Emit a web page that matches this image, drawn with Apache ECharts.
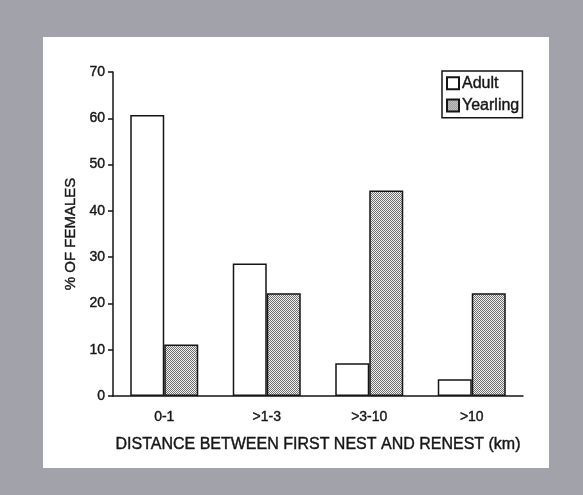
<!DOCTYPE html>
<html><head><meta charset="utf-8">
<script src="https://cdn.jsdelivr.net/npm/echarts@6/dist/echarts.min.js"></script>
<style>html,body{margin:0;padding:0;background:#a2a2aa;}#c{width:583px;height:495px;}</style>
</head><body><div id="c"></div>
<script>
const categories = ['0-1', '>1-3', '>3-10', '>10'];
const adult = [60.7, 28.6, 7.1, 3.6];
const yearling = [11.1, 22.2, 44.4, 22.2];
const yTicks = [0, 10, 20, 30, 40, 50, 60, 70];

const tile = document.createElement('canvas');
tile.width = 2; tile.height = 2;
const tc = tile.getContext('2d');
tc.fillStyle = '#f2f2f2'; tc.fillRect(0, 0, 2, 2);
tc.fillStyle = '#6e6e6e';
tc.fillRect(0, 0, 1, 1); tc.fillRect(1, 1, 1, 1);

const font = '"Liberation Sans", Arial, sans-serif';
const ink = '#151515';
const heavy = { textBorderColor: ink, textBorderWidth: 0.4 };
const chart = echarts.init(document.getElementById('c'));
chart.setOption({
  backgroundColor: '#a2a2aa',
  animation: false,
  textStyle: { fontFamily: font, color: ink },
  graphic: [{ type: 'rect', z: -10, shape: { x: 43, y: 37, width: 506, height: 431 }, style: { fill: '#ffffff' } }],
  grid: { left: 113, right: 60, top: 72, bottom: 99 },
  legend: {
    left: 442, top: 71, orient: 'vertical',
    borderColor: ink, borderWidth: 1.5, padding: [4, 3, 4, 4],
    itemWidth: 12, itemHeight: 12, itemGap: 6,
    icon: 'rect',
    textStyle: Object.assign({ fontFamily: font, fontSize: 16, color: ink, padding: [0, 0, 0, -2] }, heavy),
    data: ['Adult', 'Yearling']
  },
  xAxis: {
    type: 'category', data: categories,
    axisLine: { lineStyle: { color: ink, width: 1.5 } },
    axisTick: { length: 5, lineStyle: { color: ink, width: 1.5 } },
    axisLabel: Object.assign({ fontSize: 14, color: ink, margin: 14, fontFamily: font }, heavy),
    name: 'DISTANCE BETWEEN FIRST NEST AND RENEST (km)',
    nameLocation: 'middle', nameGap: 41,
    nameTextStyle: Object.assign({ fontSize: 16, color: ink, fontFamily: font }, heavy)
  },
  yAxis: {
    type: 'value', min: 0, max: 70, interval: 10,
    axisLine: { show: true, lineStyle: { color: ink, width: 1.5 } },
    axisTick: { show: true, length: 5, lineStyle: { color: ink, width: 1.5 } },
    splitLine: { show: false },
    axisLabel: Object.assign({ fontSize: 14, color: ink, margin: 8, fontFamily: font,
      formatter: v => yTicks.includes(v) ? String(v) : '' }, heavy),
    name: '% OF FEMALES', nameLocation: 'middle', nameGap: 31, nameRotate: 90,
    nameTextStyle: Object.assign({ fontSize: 15, color: ink, fontFamily: font }, heavy)
  },
  series: [
    { name: 'Adult', type: 'bar', data: adult, barWidth: 34, barGap: '0%',
      itemStyle: { color: '#ffffff', borderColor: ink, borderWidth: 1.5 } },
    { name: 'Yearling', type: 'bar', data: yearling, barWidth: 34,
      itemStyle: { color: { image: tile, repeat: 'repeat' }, borderColor: ink, borderWidth: 1.5 } }
  ]
});
</script></body></html>
